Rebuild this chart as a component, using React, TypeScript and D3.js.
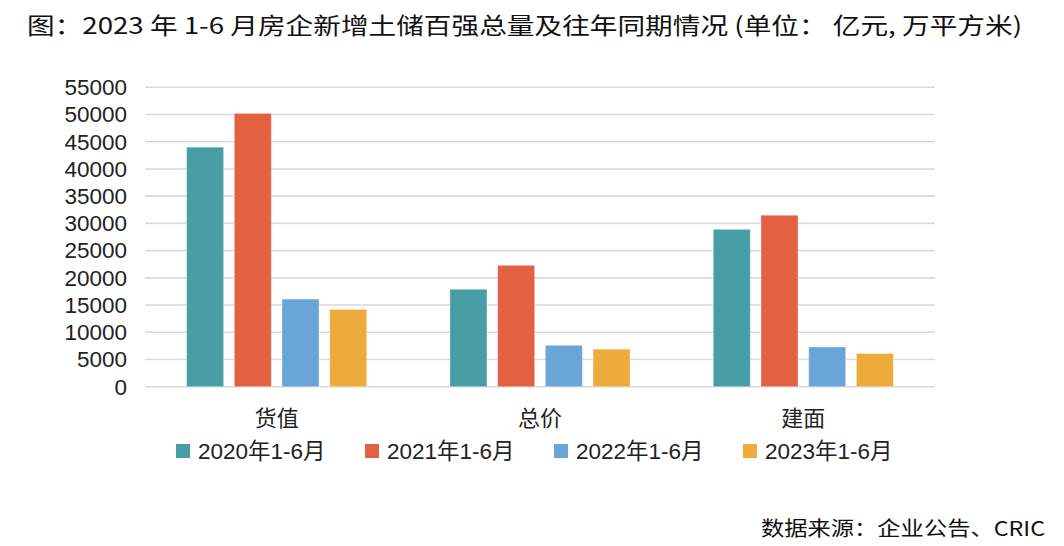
import React from "react";
import * as d3 from "d3";

const categories = ["货值", "总价", "建面"];
const seriesNames = ["2020年1-6月", "2021年1-6月", "2022年1-6月", "2023年1-6月"];
const values2020 = [44000, 17900, 28900];
const values2021 = [50200, 22300, 31500];
const values2022 = [16100, 7600, 7300];
const values2023 = [14200, 6900, 6100];
const yTicks = [0, 5000, 10000, 15000, 20000, 25000, 30000, 35000, 40000, 45000, 50000, 55000];
const colors = ["#479EA4", "#E36141", "#6AA5D8", "#EDAB3B"];
const title = "图：2023 年 1-6 月房企新增土储百强总量及往年同期情况 (单位： 亿元, 万平方米)";
const source = "数据来源：企业公告、CRIC";

const seriesValues = [values2020, values2021, values2022, values2023];

export default function App() {
  const W = 1064;
  const H = 546;
  const left = 145;
  const right = 935;
  const y = d3.scaleLinear().domain([0, 55000]).range([386.7, 87.3]);
  const x0 = d3.scaleBand<string>().domain(categories).range([left, right]).padding(0);
  const x1 = d3
    .scaleBand<string>()
    .domain(seriesNames)
    .range([0, x0.bandwidth()])
    .paddingInner(0.224)
    .paddingOuter(0.872);
  const latin = "'Liberation Sans', Arial, Helvetica, sans-serif";
  const cjk = "'Liberation Sans', 'Noto Sans CJK SC', sans-serif";

  return (
    <svg
      width={W}
      height={H}
      style={{ position: "absolute", left: 0, top: 0, background: "#fff" }}
    >
      <rect x={0} y={0} width={W} height={H} fill="#fff" />
      <text
        x={27}
        y={34}
        fontFamily="'Noto Sans CJK SC', sans-serif"
        fontSize={23}
        fill="#111"
        textLength={995}
        lengthAdjust="spacingAndGlyphs"
      >
        {title}
      </text>
      {yTicks.map((t) => (
        <g key={t}>
          <line x1={left} x2={right} y1={y(t)} y2={y(t)} stroke="#d9d9d9" strokeWidth={1.6} />
          <text
            x={127}
            y={y(t)}
            dy="0.35em"
            textAnchor="end"
            fontFamily={latin}
            fontSize={22.5}
            fill="#222"
          >
            {t}
          </text>
        </g>
      ))}
      {categories.map((c, ci) => (
        <g key={c} transform={`translate(${x0(c)},0)`}>
          {seriesNames.map((s, si) => {
            const v = seriesValues[si][ci];
            return (
              <rect
                key={s}
                x={x1(s)}
                y={y(v)}
                width={x1.bandwidth()}
                height={y(0) - y(v)}
                fill={colors[si]}
                stroke="#ffffff"
                strokeOpacity={0.35}
                strokeWidth={1}
              />
            );
          })}
          <text
            x={x0.bandwidth() / 2}
            y={426}
            textAnchor="middle"
            fontFamily={cjk}
            fontSize={22}
            fill="#222"
          >
            {c}
          </text>
        </g>
      ))}
      {seriesNames.map((s, si) => (
        <g key={s} transform={`translate(${176 + si * 189},0)`}>
          <rect x={0} y={444} width={14} height={14} fill={colors[si]} />
          <text x={22} y={459} fontFamily={cjk} fontSize={22.5} fill="#222">
            {s}
          </text>
        </g>
      ))}
      <text
        x={761}
        y={536}
        fontFamily="'Noto Sans CJK SC', serif"
        fontSize={20}
        fill="#111"
        textLength={284}
        lengthAdjust="spacingAndGlyphs"
      >
        {source}
      </text>
    </svg>
  );
}
